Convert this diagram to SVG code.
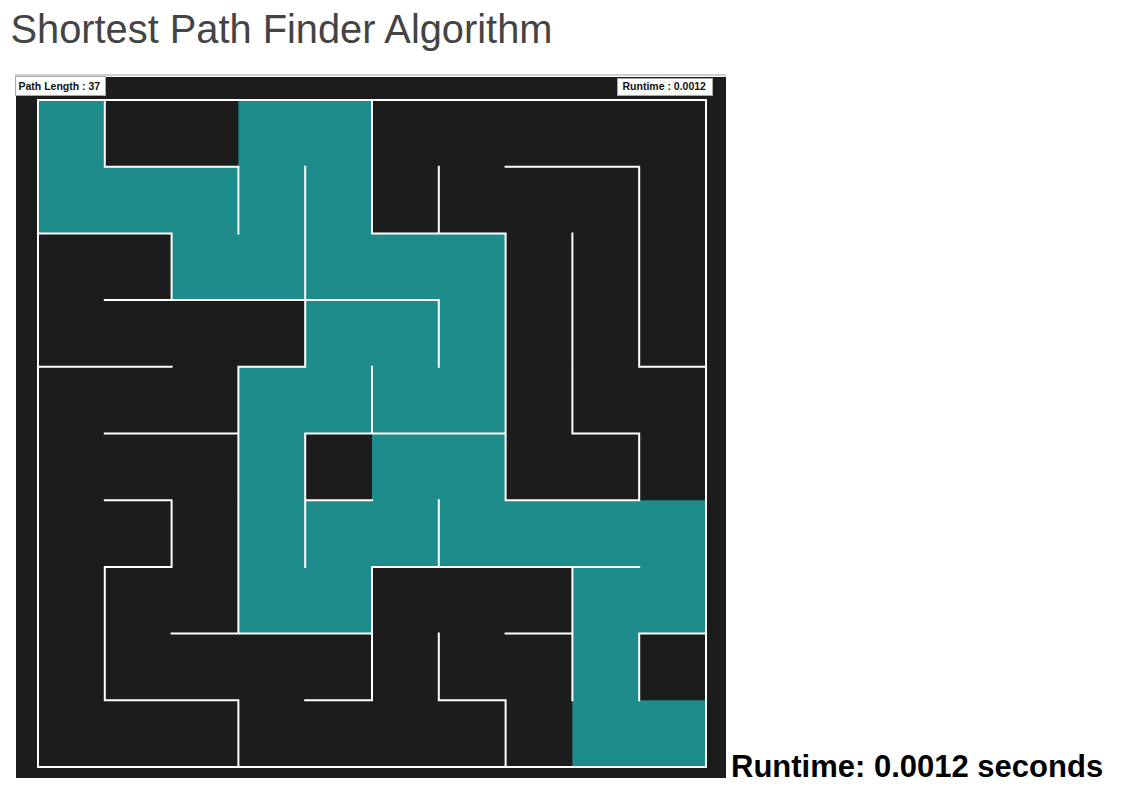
<svg xmlns="http://www.w3.org/2000/svg" width="1128" height="798" viewBox="0 0 1128 798">
  <style>
    .title { font-family: "Liberation Sans", Arial, Helvetica, sans-serif; font-size: 39.8px; fill: #444444; }
    .badge { fill: #ffffff; stroke: #a8a8a8; stroke-width: 1; }
    .badge-text { font-family: "Liberation Sans", Arial, Helvetica, sans-serif; font-size: 10.5px; font-weight: bold; fill: #111111; }
    .runtime { font-family: "Liberation Sans", Arial, Helvetica, sans-serif; font-size: 31px; font-weight: bold; fill: #000000; }
    .wall { fill: none; stroke: #ffffff; stroke-width: 2; stroke-linecap: square; }
    .path-cells { fill: #1e8c8a; }
  </style>

  <rect width="1128" height="798" fill="#ffffff"/>

  <text class="title" x="10.5" y="43">Shortest Path Finder Algorithm</text>

  <!-- board frame -->
  <g id="board">
    <rect x="15" y="74" width="711" height="2" fill="#cfcfcf"/>
    <rect x="16" y="77" width="710" height="701" fill="#1c1c1c"/>
  </g>

  <!-- cells on the shortest path (10x10 grid, cell 66.8 x 66.7) -->
  <g id="path">
    <path class="path-cells" d="
      M38,100 H104.8 V166.7 H38 Z
      M238.4,100 H372 V166.7 H238.4 Z
      M38,166.7 H372 V233.4 H38 Z
      M171.6,233.4 H505.6 V300.1 H171.6 Z
      M305.2,300.1 H505.6 V366.8 H305.2 Z
      M238.4,366.8 H505.6 V433.5 H238.4 Z
      M238.4,433.5 H305.2 V500.2 H238.4 Z
      M372,433.5 H505.6 V500.2 H372 Z
      M238.4,500.2 H706 V566.9 H238.4 Z
      M238.4,566.9 H372 V633.6 H238.4 Z
      M572.4,566.9 H706 V633.6 H572.4 Z
      M572.4,633.6 H639.2 V700.3 H572.4 Z
      M572.4,700.3 H706 V767 H572.4 Z"/>
  </g>

  <!-- maze walls -->
  <g id="walls">
    <rect class="wall" x="38" y="100" width="668" height="667"/>
    <path class="wall" d="
      M104.8,166.7 H238.4 M505.6,166.7 H639.2
      M38,233.4 H171.6 M372,233.4 H505.6
      M104.8,300.1 H438.8
      M38,366.8 H171.6 M238.4,366.8 H305.2 M639.2,366.8 H706
      M104.8,433.5 H238.4 M305.2,433.5 H505.6 M572.4,433.5 H639.2
      M104.8,500.2 H171.6 M305.2,500.2 H372 M505.6,500.2 H639.2
      M104.8,566.9 H171.6 M372,566.9 H639.2
      M171.6,633.6 H372 M505.6,633.6 H572.4 M639.2,633.6 H706
      M104.8,700.3 H238.4 M305.2,700.3 H372 M438.8,700.3 H505.6
      M104.8,100 V166.7 M104.8,566.9 V700.3
      M171.6,233.4 V300.1 M171.6,500.2 V566.9
      M238.4,166.7 V233.4 M238.4,366.8 V633.6 M238.4,700.3 V767
      M305.2,166.7 V366.8 M305.2,433.5 V566.9
      M372,100 V233.4 M372,366.8 V433.5 M372,566.9 V700.3
      M438.8,166.7 V233.4 M438.8,300.1 V366.8 M438.8,500.2 V566.9 M438.8,633.6 V700.3
      M505.6,233.4 V500.2 M505.6,700.3 V767
      M572.4,233.4 V433.5 M572.4,566.9 V700.3
      M639.2,166.7 V366.8 M639.2,433.5 V500.2 M639.2,633.6 V700.3"/>
  </g>

  <!-- status badges -->
  <g id="path-length">
    <rect class="badge" x="15.5" y="76.5" width="90" height="19"/>
    <text class="badge-text" x="18.5" y="89.5">Path Length : 37</text>
  </g>
  <g id="runtime-badge">
    <rect class="badge" x="617.5" y="78.5" width="95" height="17"/>
    <text class="badge-text" x="622.5" y="89.5">Runtime : 0.0012</text>
  </g>

  <text class="runtime" x="731" y="777">Runtime: 0.0012 seconds</text>
</svg>
